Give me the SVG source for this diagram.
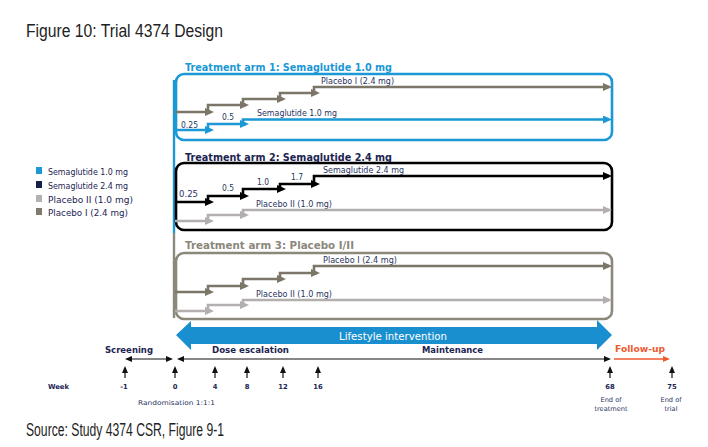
<svg xmlns="http://www.w3.org/2000/svg" width="708" height="447" viewBox="0 0 708 447">
<style>
.cap{font-family:"Liberation Sans",Arial,sans-serif;font-size:17.5px;fill:#222}
.t{font-family:"DejaVu Sans",Verdana,sans-serif}
.title{font-size:10.5px;font-weight:bold}
.lab{font-size:8.2px;fill:#2a3462}
.leg{font-size:8.8px;fill:#1c2452}
.ph{font-size:9px;font-weight:bold;fill:#1c2452}
.wk{font-size:6.8px;font-weight:bold;fill:#1c2452}
.sm{font-size:6.6px;fill:#2a3462}
.st{fill:none;stroke-width:2.6;stroke-linejoin:miter}
.blue{stroke:#1b98d5}
.black{stroke:#000}
.lg{stroke:#b3afae}
.br{stroke:#7b7667}
.tk{fill:none;stroke:#111;stroke-width:1.2}
</style>
<defs>
<marker id="aBlue" markerUnits="userSpaceOnUse" markerWidth="9" markerHeight="8" refX="6" refY="4" orient="auto"><path d="M0,0L9,4L0,8z" fill="#1b98d5"/></marker>
<marker id="aBlack" markerUnits="userSpaceOnUse" markerWidth="9" markerHeight="8" refX="6" refY="4" orient="auto"><path d="M0,0L9,4L0,8z" fill="#000"/></marker>
<marker id="aLg" markerUnits="userSpaceOnUse" markerWidth="9" markerHeight="8" refX="6" refY="4" orient="auto"><path d="M0,0L9,4L0,8z" fill="#b3afae"/></marker>
<marker id="aBr" markerUnits="userSpaceOnUse" markerWidth="9" markerHeight="8" refX="6" refY="4" orient="auto"><path d="M0,0L9,4L0,8z" fill="#7b7667"/></marker>
<marker id="aTk" markerUnits="userSpaceOnUse" markerWidth="7" markerHeight="6" refX="5" refY="3" orient="auto-start-reverse"><path d="M0,0L7,3L0,6z" fill="#111"/></marker>
<marker id="aOr" markerUnits="userSpaceOnUse" markerWidth="7" markerHeight="6" refX="5" refY="3" orient="auto"><path d="M0,0L7,3L0,6z" fill="#ec5a2e"/></marker>
</defs>

<text class="cap" x="26" y="37" textLength="197" lengthAdjust="spacingAndGlyphs">Figure 10:  Trial 4374 Design</text>
<text class="cap" x="26" y="436" textLength="198" lengthAdjust="spacingAndGlyphs">Source: Study 4374 CSR, Figure 9-1</text>

<g id="legend">
<rect x="36" y="167" width="6" height="7" fill="#1b98d5"/>
<text class="t leg" x="48" y="175" textLength="80" lengthAdjust="spacingAndGlyphs">Semaglutide 1.0 mg</text>
<rect x="36" y="181" width="6" height="7" fill="#14204a"/>
<text class="t leg" x="48" y="189" textLength="80" lengthAdjust="spacingAndGlyphs">Semaglutide 2.4 mg</text>
<rect x="36" y="195" width="6" height="7" fill="#b5b1b0"/>
<text class="t leg" x="48" y="203" textLength="85" lengthAdjust="spacingAndGlyphs">Placebo II (1.0 mg)</text>
<rect x="36" y="208" width="6" height="7" fill="#7f7a6c"/>
<text class="t leg" x="48" y="216" textLength="80" lengthAdjust="spacingAndGlyphs">Placebo I (2.4 mg)</text>
</g>

<g id="left-rail">
<line x1="174" y1="80" x2="174" y2="233" stroke="#1b98d5" stroke-width="2.4"/>
<line x1="174" y1="233" x2="174" y2="318" stroke="#8c887a" stroke-width="2.4"/>
</g>

<g id="arm1">
<text class="t title" x="185" y="71" fill="#1b98d5" textLength="207" lengthAdjust="spacingAndGlyphs">Treatment arm 1: Semaglutide 1.0 mg</text>
<rect x="176" y="74" width="436" height="66" rx="8" fill="none" stroke="#1b98d5" stroke-width="2.6"/>
<text class="t lab" x="181" y="128" textLength="17" lengthAdjust="spacingAndGlyphs">0.25</text>
<text class="t lab" x="222" y="120" textLength="12" lengthAdjust="spacingAndGlyphs">0.5</text>
<text class="t lab" x="257" y="116" textLength="80" lengthAdjust="spacingAndGlyphs">Semaglutide 1.0 mg</text>
<text class="t lab" x="321" y="84" textLength="73" lengthAdjust="spacingAndGlyphs">Placebo I (2.4 mg)</text>
</g>

<g id="arm2">
<text class="t title" x="185" y="161" fill="#1c2452" textLength="207" lengthAdjust="spacingAndGlyphs">Treatment arm 2: Semaglutide 2.4 mg</text>
<rect x="176" y="163" width="436" height="67" rx="8" fill="none" stroke="#000" stroke-width="2.6"/>
<text class="t lab" x="179" y="197" textLength="19" lengthAdjust="spacingAndGlyphs">0.25</text>
<text class="t lab" x="222" y="191" textLength="12" lengthAdjust="spacingAndGlyphs">0.5</text>
<text class="t lab" x="257" y="185" textLength="12" lengthAdjust="spacingAndGlyphs">1.0</text>
<text class="t lab" x="291" y="180" textLength="12" lengthAdjust="spacingAndGlyphs">1.7</text>
<text class="t lab" x="323" y="173" textLength="81" lengthAdjust="spacingAndGlyphs">Semaglutide  2.4 mg</text>
<text class="t lab" x="256" y="207" textLength="76" lengthAdjust="spacingAndGlyphs">Placebo II (1.0 mg)</text>
</g>

<g id="arm3">
<text class="t title" x="185" y="249" fill="#8b877b" textLength="169" lengthAdjust="spacingAndGlyphs">Treatment arm 3: Placebo I/II</text>
<rect x="176" y="253" width="436" height="66" rx="8" fill="none" stroke="#8c887a" stroke-width="2.6"/>
<text class="t lab" x="323" y="263" textLength="74" lengthAdjust="spacingAndGlyphs">Placebo I (2.4 mg)</text>
<text class="t lab" x="256" y="297" textLength="76" lengthAdjust="spacingAndGlyphs">Placebo II (1.0 mg)</text>
</g>

<g id="connectors">
<path class="st br" marker-end="url(#aBr)" d="M175,112H211"/>
<path class="st br" marker-end="url(#aBr)" d="M208,113V105H246"/>
<path class="st br" marker-end="url(#aBr)" d="M243,106V99H283"/>
<path class="st br" marker-end="url(#aBr)" d="M280,100V93H317"/>
<path class="st br" marker-end="url(#aBr)" d="M314,94V87H609"/>
<path class="st blue" marker-end="url(#aBlue)" d="M175,130H211"/>
<path class="st blue" marker-end="url(#aBlue)" d="M208,131V124H246"/>
<path class="st blue" marker-end="url(#aBlue)" d="M243,125V119.5H609"/>
<path class="st black" marker-end="url(#aBlack)" d="M175,202H211"/>
<path class="st black" marker-end="url(#aBlack)" d="M208,203V196H246"/>
<path class="st black" marker-end="url(#aBlack)" d="M243,197V189H283"/>
<path class="st black" marker-end="url(#aBlack)" d="M280,190V184H317"/>
<path class="st black" marker-end="url(#aBlack)" d="M314,185V176H609"/>
<path class="st lg" marker-end="url(#aLg)" d="M175,221H211"/>
<path class="st lg" marker-end="url(#aLg)" d="M208,222V215H246"/>
<path class="st lg" marker-end="url(#aLg)" d="M243,216V210H609"/>
<path class="st br" marker-end="url(#aBr)" d="M175,292H211"/>
<path class="st br" marker-end="url(#aBr)" d="M208,293V286H246"/>
<path class="st br" marker-end="url(#aBr)" d="M243,287V279H283"/>
<path class="st br" marker-end="url(#aBr)" d="M280,280V273H317"/>
<path class="st br" marker-end="url(#aBr)" d="M314,274V266H609"/>
<path class="st lg" marker-end="url(#aLg)" d="M175,311H211"/>
<path class="st lg" marker-end="url(#aLg)" d="M208,312V305H246"/>
<path class="st lg" marker-end="url(#aLg)" d="M243,306V300H609"/>
</g>

<g id="lifestyle">
<path d="M176,335L191,321V327H597V320L612,335L597,350V344H191V350Z" fill="#1a8fcf"/>
<text class="t" x="393" y="339.5" font-size="11px" fill="#fff" text-anchor="middle" textLength="108" lengthAdjust="spacingAndGlyphs">Lifestyle intervention</text>
</g>

<g id="timeline">
<text class="t ph" x="105" y="353" textLength="48" lengthAdjust="spacingAndGlyphs">Screening</text>
<text class="t ph" x="212" y="353" textLength="77" lengthAdjust="spacingAndGlyphs">Dose escalation</text>
<text class="t ph" x="422" y="353" textLength="61" lengthAdjust="spacingAndGlyphs">Maintenance</text>
<text class="t ph" x="615" y="352" style="fill:#ec5a2e" textLength="50" lengthAdjust="spacingAndGlyphs">Follow-up</text>
<line class="tk" x1="127" y1="359" x2="171" y2="359" marker-start="url(#aTk)" marker-end="url(#aTk)"/>
<line class="tk" x1="179" y1="359" x2="609" y2="359" marker-start="url(#aTk)" marker-end="url(#aTk)"/>
<line x1="614" y1="359" x2="668" y2="359" stroke="#ec5a2e" stroke-width="1.4" marker-end="url(#aOr)"/>
<line class="tk" x1="125" y1="378" x2="125" y2="368" marker-end="url(#aTk)"/>
<line class="tk" x1="175" y1="378" x2="175" y2="368" marker-end="url(#aTk)"/>
<line class="tk" x1="215" y1="378" x2="215" y2="368" marker-end="url(#aTk)"/>
<line class="tk" x1="247" y1="378" x2="247" y2="368" marker-end="url(#aTk)"/>
<line class="tk" x1="283" y1="378" x2="283" y2="368" marker-end="url(#aTk)"/>
<line class="tk" x1="318" y1="378" x2="318" y2="368" marker-end="url(#aTk)"/>
<line class="tk" x1="610" y1="378" x2="610" y2="368" marker-end="url(#aTk)"/>
<line class="tk" x1="672" y1="378" x2="672" y2="368" marker-end="url(#aTk)"/>
<text class="t wk" x="48" y="389">Week</text>
<text class="t wk" x="124" y="389" text-anchor="middle">-1</text>
<text class="t wk" x="175" y="389" text-anchor="middle">0</text>
<text class="t wk" x="215" y="389" text-anchor="middle">4</text>
<text class="t wk" x="247" y="389" text-anchor="middle">8</text>
<text class="t wk" x="283" y="389" text-anchor="middle">12</text>
<text class="t wk" x="318" y="389" text-anchor="middle">16</text>
<text class="t wk" x="610" y="389" text-anchor="middle">68</text>
<text class="t wk" x="672" y="389" text-anchor="middle">75</text>
<text class="t sm" x="138" y="405" textLength="77" lengthAdjust="spacingAndGlyphs">Randomisation 1:1:1</text>
<text class="t sm" x="611" y="402" text-anchor="middle">End of</text>
<text class="t sm" x="611" y="411" text-anchor="middle">treatment</text>
<text class="t sm" x="671" y="402" text-anchor="middle">End of</text>
<text class="t sm" x="671" y="411" text-anchor="middle">trial</text>
</g>
</svg>
